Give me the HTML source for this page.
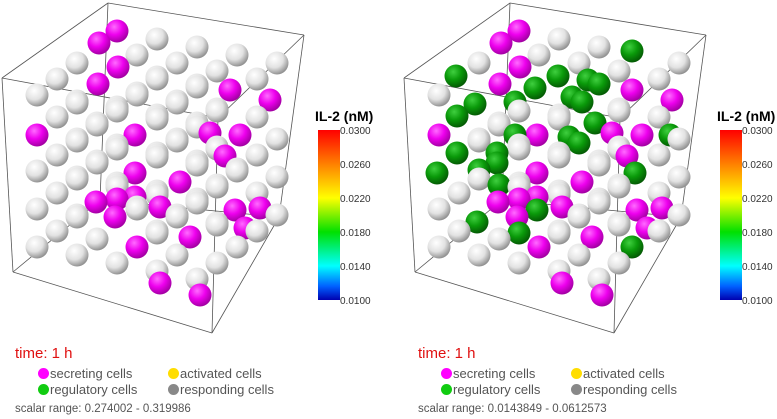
<!DOCTYPE html>
<html><head><meta charset="utf-8">
<style>
body{margin:0;background:#fff;width:777px;height:419px;overflow:hidden;font-family:"Liberation Sans",sans-serif;}
svg{position:absolute;left:0;top:0}
.lg{position:absolute;font-size:13px;color:#555;white-space:nowrap}
.dot{display:inline-block;width:11px;height:11px;border-radius:50%;vertical-align:-1px;margin-right:1px}
.sr{position:absolute;font-size:11.5px;color:#555;white-space:nowrap}
</style></head>
<body>
<svg id="s" width="777" height="419" viewBox="0 0 777 419">
<defs>
<radialGradient id="gGray" cx="0.38" cy="0.32" r="0.7"><stop offset="0" stop-color="#ffffff"/><stop offset="0.55" stop-color="#e2e2e2"/><stop offset="1" stop-color="#8e8e8e"/></radialGradient>
<radialGradient id="gMag" cx="0.38" cy="0.32" r="0.7"><stop offset="0" stop-color="#ff6bff"/><stop offset="0.5" stop-color="#ee00ee"/><stop offset="1" stop-color="#a000a0"/></radialGradient>
<radialGradient id="gGreen" cx="0.38" cy="0.32" r="0.7"><stop offset="0" stop-color="#3fcf3f"/><stop offset="0.5" stop-color="#0a9a0a"/><stop offset="1" stop-color="#045804"/></radialGradient>
<linearGradient id="cbar" x1="0" y1="1" x2="0" y2="0">
<stop offset="0" stop-color="#0000b0"/><stop offset="0.08" stop-color="#0060ff"/><stop offset="0.2" stop-color="#00ffff"/><stop offset="0.4" stop-color="#00e000"/><stop offset="0.6" stop-color="#ffff00"/><stop offset="0.8" stop-color="#ff8000"/><stop offset="1" stop-color="#ff0000"/></linearGradient>
</defs>
<g id="left"></g>
<g id="right"></g>
</svg>
<script>
const latticeN = [5,5,5];
const secretingPos = [[117,31],[99,43],[118,67],[98,84],[37,135],[135,135],[210,133],[240,135],[225,156],[135,173],[180,182],[117,199],[96,202],[135,197],[160,207],[115,217],[235,210],[260,208],[245,228],[190,237],[137,247],[160,283],[200,295],[230,90],[270,100]];
const regulatoryPos = [[230,51],[54,76],[156,76],[186,80],[197,84],[170,97],[180,102],[73,104],[55,116],[113,102],[133,88],[193,123],[177,143],[167,137],[268,135],[113,135],[55,153],[95,153],[95,163],[77,170],[35,173],[233,173],[97,185],[135,210],[75,222],[117,233],[230,247]];
const cbTicks = ["0.0300","0.0260","0.0220","0.0180","0.0140","0.0100"];
const NS="http://www.w3.org/2000/svg";
function el(p,t,a){const e=document.createElementNS(NS,t);for(const k in a)e.setAttribute(k,a[k]);p.appendChild(e);return e;}
function panel(g,ox,withGreen){
  const lines=[[2,78,108,3],[108,3,304,35],[304,35,279,217],[2,78,13,272],[13,272,212,333],[212,333,279,217],[2,78,218,118],[218,118,304,35],[218,118,212,333],[108,3,100,200],[13,272,100,200],[100,200,279,217]];
  lines.forEach(l=>{const e=el(g,'line',{x1:l[0]+ox,y1:l[1],x2:l[2]+ox,y2:l[3],stroke:'#555','stroke-width':0.8});
    
    });
  const nodes=[];
  for(let j=0;j<latticeN[1];j++)for(let k=0;k<latticeN[2];k++)for(let i=0;i<latticeN[0];i++){
    nodes.push({x:117+40*i-20*j,y:31+8*i+16*j+38*k});}
  const special=[];
  secretingPos.forEach(p=>special.push({x:p[0],y:p[1],f:'url(#gMag)',n:'secreting-cell'}));
  if(withGreen) regulatoryPos.forEach(p=>special.push({x:p[0],y:p[1],f:'url(#gGreen)',n:'regulatory-cell'}));
  const list=nodes.filter(n=>!special.some(s=>Math.hypot(s.x-n.x,s.y-n.y)<9)).map(n=>({x:n.x,y:n.y,f:'url(#gGray)',n:'responding-cell'}));
  special.forEach(s=>list.push(s));
  list.sort((a,b)=>a.y-b.y);
  list.forEach(c=>{const e=el(g,'circle',{cx:c.x+ox,cy:c.y,r:11.5,fill:c.f});
    
    });
  const bx=ox+318, by=130, bh=170;
  const t=el(g,'text',{x:bx-3,y:by-9,'font-size':14,'font-weight':'bold',fill:'#000'});t.textContent='IL-2 (nM)';
  
  
  const r=el(g,'rect',{x:bx,y:by,width:22,height:bh,fill:'url(#cbar)'});
  
  
  cbTicks.forEach((v,i)=>{const tt=el(g,'text',{x:bx+22,y:by+4+i*bh/(cbTicks.length-1),'font-size':10,fill:'#333'});tt.textContent=v;
    
    });
}
panel(document.getElementById('left'),0,false);
panel(document.getElementById('right'),402,true);
</script>
<div style="position:absolute;left:15px;top:345px;color:#e01010;font-size:15px;">time: 1 h</div>
<div style="position:absolute;left:418px;top:345px;color:#e01010;font-size:15px;">time: 1 h</div>
<div class="lg" style="left:38px;top:366px"><span class="dot" style="background:#f0f"></span>secreting cells</div>
<div class="lg" style="left:168px;top:366px"><span class="dot" style="background:#fd0"></span>activated cells</div>
<div class="lg" style="left:38px;top:382px"><span class="dot" style="background:#1c1"></span>regulatory cells</div>
<div class="lg" style="left:168px;top:382px"><span class="dot" style="background:#888"></span>responding cells</div>
<div class="sr" style="left:15px;top:403px">scalar range: 0.274002 - 0.319986</div>
<div class="lg" style="left:441px;top:366px"><span class="dot" style="background:#f0f"></span>secreting cells</div>
<div class="lg" style="left:571px;top:366px"><span class="dot" style="background:#fd0"></span>activated cells</div>
<div class="lg" style="left:441px;top:382px"><span class="dot" style="background:#1c1"></span>regulatory cells</div>
<div class="lg" style="left:571px;top:382px"><span class="dot" style="background:#888"></span>responding cells</div>
<div class="sr" style="left:418px;top:403px">scalar range: 0.0143849 - 0.0612573</div>
</body></html>
